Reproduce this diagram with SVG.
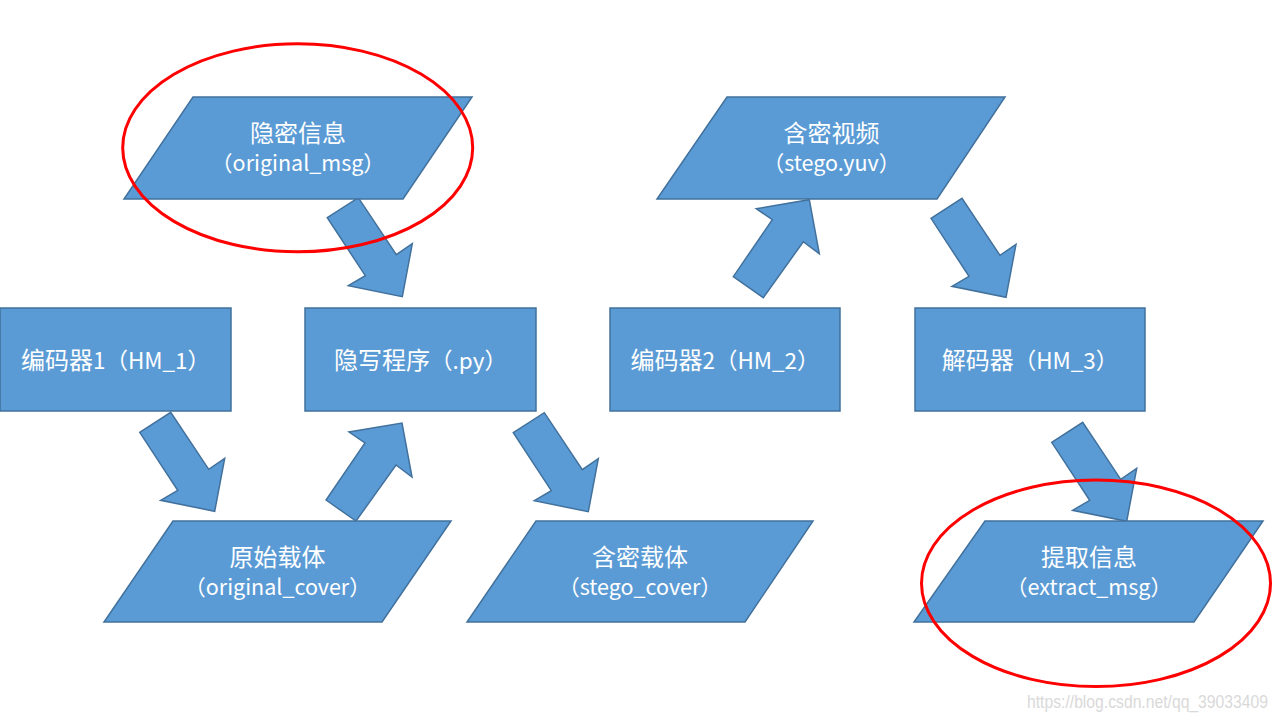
<svg xmlns="http://www.w3.org/2000/svg" xmlns:xlink="http://www.w3.org/1999/xlink" width="1280" height="720" viewBox="0 0 1280 720">
<defs>
<style>
.shape{fill:#5B9BD5;stroke:#41719C;stroke-width:1.5;stroke-linejoin:miter}
.arrow{fill:#5B9BD5;stroke:#41719C;stroke-width:1.5;stroke-linejoin:miter}
.t{font-family:"Noto Sans CJK SC","Liberation Sans",sans-serif;fill:#ffffff;text-anchor:middle}
.t1{font-size:24px}
.t2{font-size:21.5px}
.lat{font-size:22.5px}
.mark{fill:none;stroke:#ff0000;stroke-width:3}
.wm{font-family:"Liberation Sans",Arial,sans-serif;font-size:18px;fill:#d9d9d9}
</style>
<polygon id="dr" points="0,0 31,-20 69,37 85,26 75,79 21,68 38,58"/>
<polygon id="ur" points="0,0 30,21 70,-35 86,-23 76,-77 23,-68 39,-57"/>
</defs>
<rect width="1280" height="720" fill="#ffffff"/>

<g id="connectors">
<use xlink:href="#dr" class="arrow" transform="translate(327.3,217.7)"/>
<use xlink:href="#dr" class="arrow" transform="translate(139.7,432.3)"/>
<use xlink:href="#ur" class="arrow" transform="translate(326,500)"/>
<use xlink:href="#dr" class="arrow" transform="translate(513.3,432.7)"/>
<use xlink:href="#ur" class="arrow" transform="translate(733.3,276.7)"/>
<use xlink:href="#dr" class="arrow" transform="translate(931,218.3)"/>
<use xlink:href="#dr" class="arrow" transform="translate(1051.7,442.3)"/>
</g>

<g id="n-secret">
<polygon class="shape" points="193,97 472,97 403,199 124,199"/>
<text class="t t1" x="298" y="142">隐密信息</text>
<text class="t t2" x="298" y="171">（original_msg）</text>
</g>

<g id="n-encoder1">
<rect class="shape" x="0" y="308" width="231" height="103"/>
<text class="t t1" x="115.5" y="368.5">编码器<tspan class="lat">1（HM_1）</tspan></text>
</g>

<g id="n-stego-prog">
<rect class="shape" x="305" y="308" width="231" height="103"/>
<text class="t t1" x="420.5" y="368.5">隐写程序<tspan class="lat">（.py）</tspan></text>
</g>

<g id="n-encoder2">
<rect class="shape" x="610" y="308" width="230" height="103"/>
<text class="t t1" x="725" y="368.5">编码器<tspan class="lat">2（HM_2）</tspan></text>
</g>

<g id="n-decoder">
<rect class="shape" x="915" y="308" width="230" height="103"/>
<text class="t t1" x="1030" y="368.5">解码器<tspan class="lat">（HM_3）</tspan></text>
</g>

<g id="n-orig-cover">
<polygon class="shape" points="173,521 451,521 382,622 104,622"/>
<text class="t t1" x="277.5" y="566">原始载体</text>
<text class="t t2" x="277.5" y="595">（original_cover）</text>
</g>

<g id="n-stego-cover">
<polygon class="shape" points="536,521 813,521 745,622 467,622"/>
<text class="t t1" x="640" y="566">含密载体</text>
<text class="t t2" x="640" y="595">（stego_cover）</text>
</g>

<g id="n-stego-video">
<polygon class="shape" points="727,97 1005,97 937,199 657,199"/>
<text class="t t1" x="831.5" y="142">含密视频</text>
<text class="t t2" x="831.5" y="171">（stego.yuv）</text>
</g>

<g id="n-extract">
<polygon class="shape" points="985,521 1263,521 1194,622 914,622"/>
<text class="t t1" x="1089" y="566">提取信息</text>
<text class="t t2" x="1089" y="595">（extract_msg）</text>
</g>

<g id="marks">
<ellipse class="mark" cx="297.7" cy="147.8" rx="175" ry="104"/>
<ellipse class="mark" cx="1096" cy="583.3" rx="174.5" ry="103.3"/>
</g>

<text class="wm" x="1027" y="708" textLength="241" lengthAdjust="spacingAndGlyphs">https://blog.csdn.net/qq_39033409</text>
</svg>
